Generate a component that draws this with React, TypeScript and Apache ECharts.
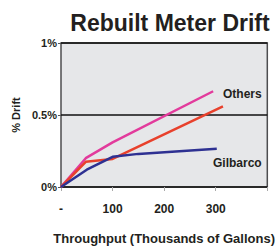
import React, { useEffect, useRef } from "react";
import * as echarts from "echarts";

const xTicks = [0, 100, 200, 300, 400];
const yTicks = [0, 0.5, 1];
const othersData: [number, number][] = [[0, 0], [48, 0.2], [100, 0.31], [295, 0.665]];
const redData: [number, number][] = [[0, 0], [48, 0.175], [100, 0.195], [314, 0.56]];
const gilbarcoData: [number, number][] = [[0, 0], [50, 0.12], [100, 0.21], [150, 0.23], [302, 0.266]];
const seriesNames = ["Others", "Others 2", "Gilbarco"];

export default function App() {
  const ref = useRef<HTMLDivElement>(null);
  useEffect(() => {
    if (!ref.current) return;
    const chart = echarts.init(ref.current, undefined, { renderer: "svg" });
    const font = "Liberation Sans, Arial, sans-serif";
    chart.setOption({
      animation: false,
      backgroundColor: "#ffffff",
      title: {
        text: "Rebuilt Meter Drift",
        left: 165,
        top: 6,
        textAlign: "center",
        textStyle: { fontFamily: font, fontWeight: "bold", fontSize: 23, color: "#231f20" },
      },
      grid: {
        left: 61, right: 6, top: 43, bottom: 59,
        show: true, backgroundColor: "#e6e7e9", borderColor: "#4d4d4f", borderWidth: 1.5,
      },
      xAxis: {
        type: "value", min: xTicks[0], max: xTicks[xTicks.length - 1], interval: 100,
        name: "Throughput (Thousands of Gallons)", nameLocation: "middle", nameGap: 45,
        nameTextStyle: { fontFamily: font, fontWeight: "bold", fontSize: 13, color: "#231f20" },
        axisLine: { show: false },
        axisTick: { show: true, length: 4, lineStyle: { color: "#aaaaaa" } },
        splitLine: { show: false },
        axisLabel: {
          margin: 16, fontFamily: font, fontWeight: "bold", fontSize: 12, color: "#231f20",
          formatter: (v: number) => (v === 0 ? "-" : v === 400 ? "" : String(v)),
        },
      },
      yAxis: {
        type: "value", min: yTicks[0], max: yTicks[yTicks.length - 1], interval: 0.5,
        name: "% Drift", nameLocation: "middle", nameGap: 39, nameRotate: 90,
        nameTextStyle: { fontFamily: font, fontWeight: "bold", fontSize: 11, color: "#231f20" },
        axisLine: { show: false },
        axisTick: { show: true, length: 3, lineStyle: { color: "#555" } },
        splitLine: { show: true, lineStyle: { color: "#111", width: 1.5 } },
        axisLabel: {
          margin: 4, fontFamily: font, fontWeight: "bold", fontSize: 11, color: "#231f20",
          formatter: (v: number) => (v === 0 ? "0%" : v === 0.5 ? "0.5%" : v === 1 ? "1%" : ""),
        },
      },
      series: [
        { name: seriesNames[0], type: "line", data: othersData, symbol: "none", lineStyle: { color: "#e23b9c", width: 2.5 } },
        { name: seriesNames[1], type: "line", data: redData, symbol: "none", lineStyle: { color: "#e8412c", width: 2.5 } },
        { name: seriesNames[2], type: "line", data: gilbarcoData, symbol: "none", lineStyle: { color: "#2e3192", width: 2.5 } },
      ],
      graphic: [
        { type: "text", left: 223, top: 88, style: { text: "Others", fontFamily: font, fontWeight: "bold", fontSize: 12, fill: "#231f20" } },
        { type: "text", left: 213, top: 157, style: { text: "Gilbarco", fontFamily: font, fontWeight: "bold", fontSize: 12, fill: "#231f20" } },
      ],
    });
    return () => chart.dispose();
  }, []);
  return <div ref={ref} style={{ width: 278, height: 250, position: "absolute", left: 0, top: 0 }} />;
}
